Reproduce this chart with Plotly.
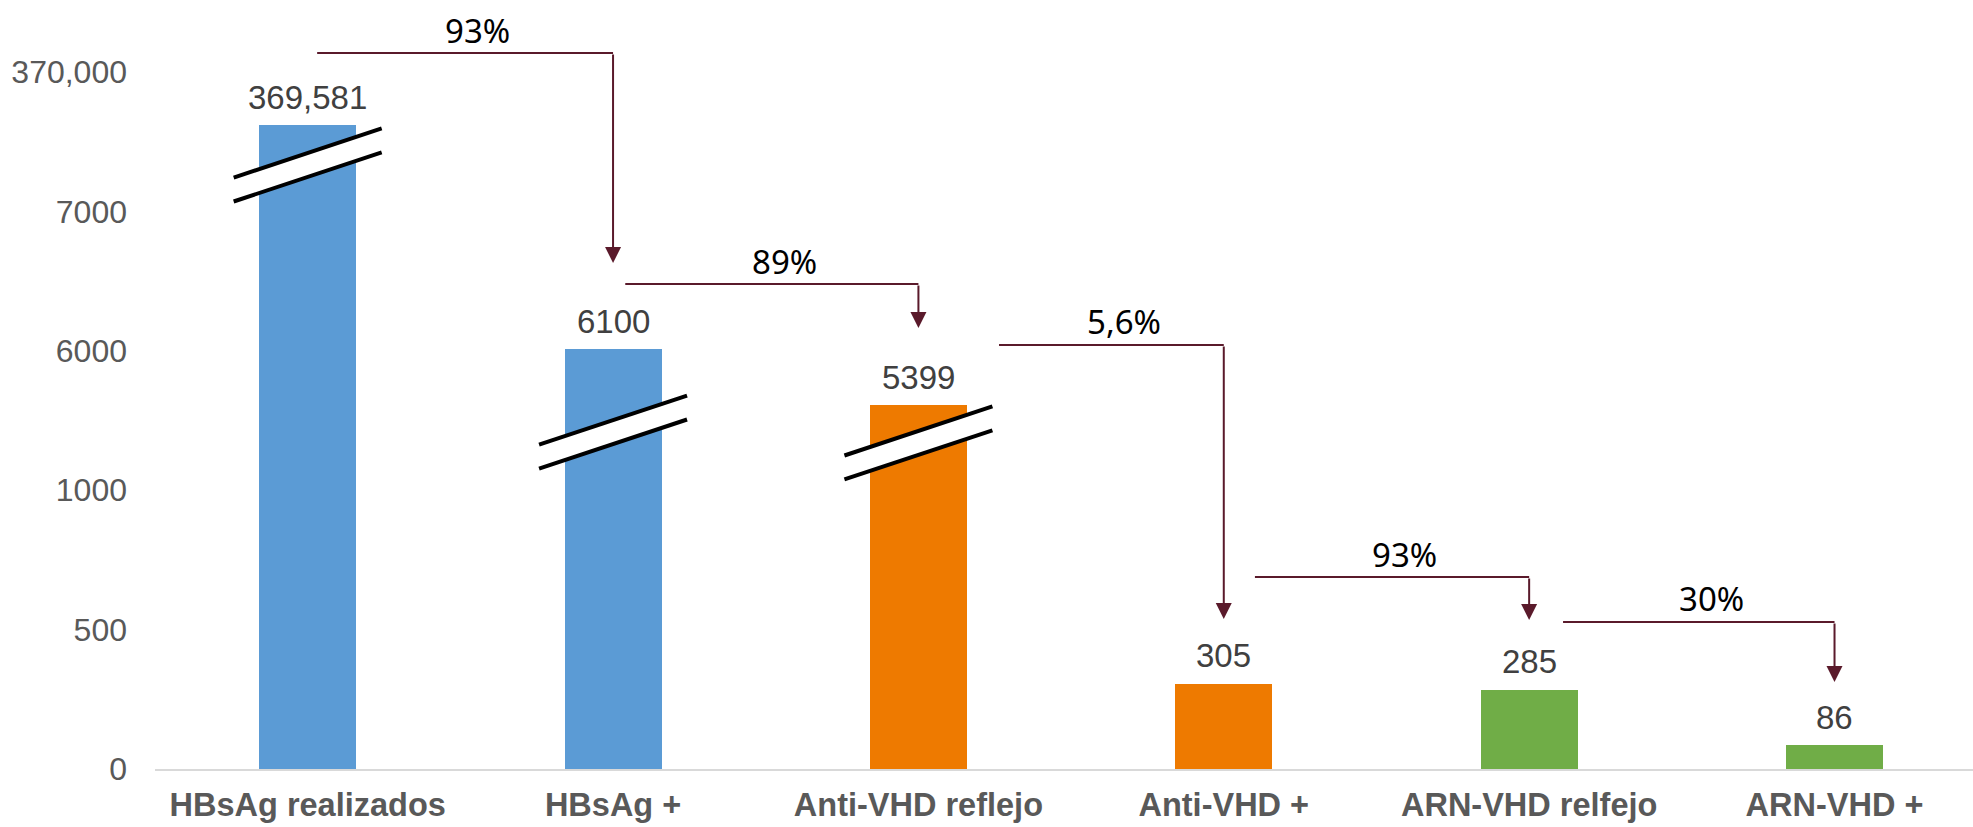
import numpy as np
import plotly.graph_objects as go

# ---------------- data ----------------
categories = ["HBsAg realizados", "HBsAg +", "Anti-VHD reflejo",
              "Anti-VHD +", "ARN-VHD relfejo", "ARN-VHD +"]
values = [369581, 6100, 5399, 305, 285, 86]
bar_colors = ["#5B9BD5", "#5B9BD5", "#EE7A00", "#EE7A00", "#70AD47", "#70AD47"]
step_pct = ["93%", "89%", "5,6%", "93%", "30%"]
y_tick_labels = ["0", "500", "1000", "6000", "7000", "370,000"]
broken = [True, True, True, False, False, False]

# ---------------- broken-axis scale (value -> display level) ----------------
scale_vals = [0, 1000, 5000, 7000, 350000, 400000]
scale_lvls = [0, 2, 2.382, 3.523, 4.5, 4.8]


def to_level(v):
    return float(np.interp(v, scale_vals, scale_lvls))


levels = [to_level(v) for v in values]
x = list(range(len(categories)))


def fmt(v):
    return f"{v:,}" if v >= 10000 else str(v)


GREY = "#595959"
ARROW = "#5A1A2B"
BAR_W = 0.318

fig = go.Figure()
fig.add_trace(go.Bar(
    x=x, y=levels, width=BAR_W, marker=dict(color=bar_colors, line=dict(width=0)),
    hoverinfo="skip", showlegend=False,
))

shapes = []
annotations = []

# value labels above bars
for i, v in enumerate(values):
    annotations.append(dict(
        x=i, y=levels[i], xref="x", yref="y", text=fmt(v), showarrow=False,
        yanchor="middle", yshift=28,
        font=dict(family="Liberation Sans, Arial, sans-serif", size=33, color="#404040"),
    ))

# break marks on broken bars
break_lvl = {0: 4.333, 1: 2.417, 2: 2.339}
hw, hr, hg = 0.2423, 0.176, 0.086
for i, b in enumerate(broken):
    if not b:
        continue
    yc = break_lvl[i]
    ll = (i - hw, yc - hr - hg)
    lr = (i + hw, yc + hr - hg)
    ur = (i + hw, yc + hr + hg)
    ul = (i - hw, yc - hr + hg)
    shapes.append(dict(
        type="path", xref="x", yref="y",
        path=f"M{ll[0]},{ll[1]} L{lr[0]},{lr[1]} L{ur[0]},{ur[1]} L{ul[0]},{ul[1]} Z",
        fillcolor="white", line=dict(width=0), layer="above",
    ))
    for p, q in ((ll, lr), (ul, ur)):
        shapes.append(dict(type="line", xref="x", yref="y", x0=p[0], y0=p[1], x1=q[0], y1=q[1],
                           line=dict(color="black", width=4), layer="above"))

# connectors between steps
conn_y = [5.136, 3.479, 3.042, 1.377, 1.055]
conn_start = [0.031, 0.04, 0.264, 0.102, 0.111]
conn_tip = [3.63, 3.164, 1.076, 1.069, 0.624]
for i, pct in enumerate(step_pct):
    xs = i + conn_start[i]
    xe = i + 1
    shapes.append(dict(type="line", xref="x", yref="y", x0=xs, y0=conn_y[i], x1=xe, y1=conn_y[i],
                       line=dict(color=ARROW, width=2)))
    annotations.append(dict(
        x=xe, y=conn_tip[i], ax=xe, ay=conn_y[i], xref="x", yref="y", axref="x", ayref="y",
        text="", showarrow=True, arrowhead=2, arrowsize=1.6, arrowwidth=2, arrowcolor=ARROW,
    ))
    annotations.append(dict(
        x=(xs + xe) / 2 + 0.04, y=conn_y[i], xref="x", yref="y", text=pct, showarrow=False,
        yanchor="middle", yshift=23,
        font=dict(family="Noto Sans, Open Sans, sans-serif", size=33, color="black"),
    ))

fig.update_layout(
    width=1973, height=827,
    margin=dict(l=155, r=0, t=0, b=58, autoexpand=False),
    paper_bgcolor="white", plot_bgcolor="white",
    shapes=shapes, annotations=annotations,
    bargap=0,
)
fig.update_xaxes(
    automargin=False,
    range=[-0.5, 5.4535], tickvals=x, ticktext=categories,
    showline=True, linecolor="#D9D9D9", linewidth=2, showgrid=False, zeroline=False,
    ticks="", ticklabelstandoff=6,
    tickfont=dict(family="Liberation Sans, Arial, sans-serif", size=32.5, color=GREY, weight="bold"),
)
fig.update_yaxes(
    automargin=False,
    range=[0, 769 / 139.4], tickvals=list(range(len(y_tick_labels))), ticktext=y_tick_labels,
    showline=False, showgrid=False, zeroline=False, ticks="",
    ticklabelstandoff=27,
    tickfont=dict(family="Liberation Sans, Arial, sans-serif", size=32, color=GREY),
)

fig.write_html(
    "out.html",
    config={"displayModeBar": False},
    post_script="document.body.style.margin='0px';document.body.style.overflow='hidden';",
)
